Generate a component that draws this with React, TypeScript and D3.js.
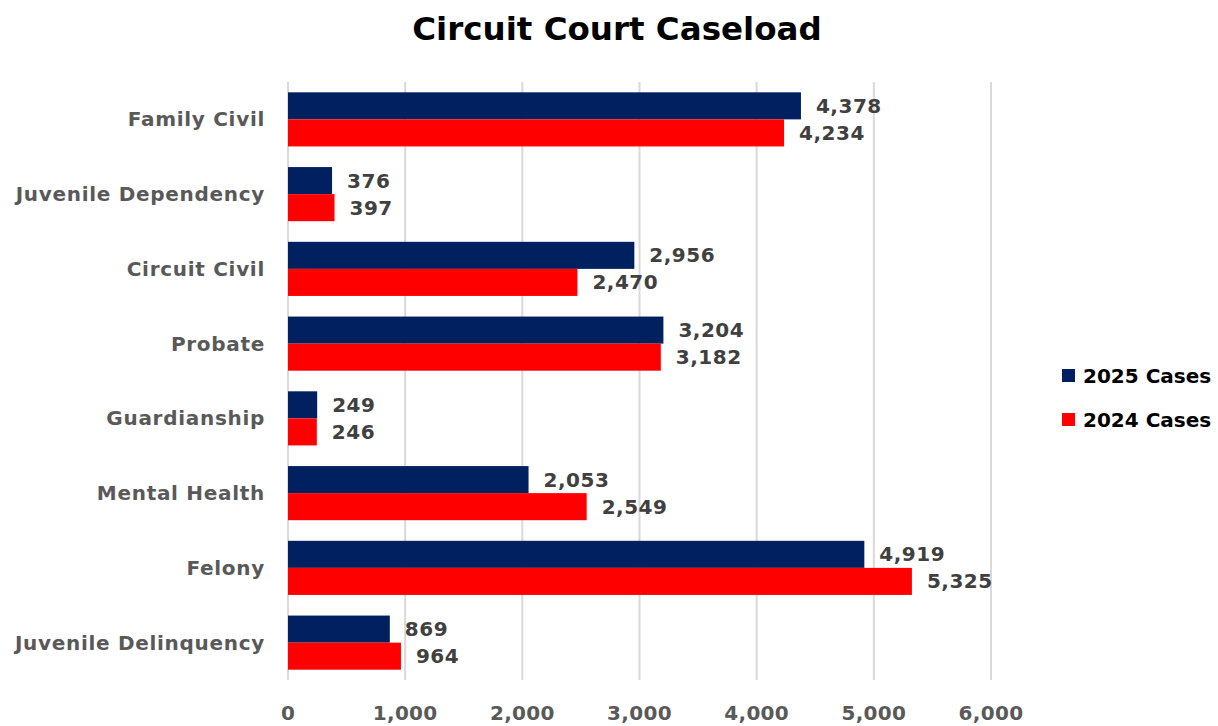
import React from 'react'
import * as d3 from 'd3'

// chart data
const categories = ['Family Civil', 'Juvenile Dependency', 'Circuit Civil', 'Probate', 'Guardianship', 'Mental Health', 'Felony', 'Juvenile Delinquency']
const cases2025 = [4378, 376, 2956, 3204, 249, 2053, 4919, 869]
const cases2024 = [4234, 397, 2470, 3182, 246, 2549, 5325, 964]
const xTicks = [0, 1000, 2000, 3000, 4000, 5000, 6000]
const seriesNames = ['2025 Cases', '2024 Cases']
const seriesColors = ['#002060', '#FF0000']

const FONT = '"DejaVu Sans", sans-serif'

export default function App() {
  const width = 1218, height = 726
  const left = 288, right = 991, top = 82, bottom = 680

  const x = d3.scaleLinear().domain([0, 6000]).range([left, right])
  const y = d3.scaleBand().domain(categories).range([top, bottom]).paddingInner(0.276).paddingOuter(0.138)
  const inner = d3.scaleBand().domain(seriesNames).range([0, y.bandwidth()])
  const fmt = d3.format(',')

  const series = [cases2025, cases2024]

  return (
    <svg width={width} height={height} style={{ position: 'absolute', left: 0, top: 0, background: '#fff' }}>
      <text x={617} y={40} textAnchor="middle" fontFamily={FONT} fontWeight="bold" fontSize={32.5} fill="#000">
        Circuit Court Caseload
      </text>

      {/* gridlines */}
      {xTicks.map(t => (
        <line key={t} x1={x(t)} x2={x(t)} y1={top} y2={bottom} stroke="#d9d9d9" strokeWidth={2} />
      ))}

      {/* bars */}
      {categories.map((c, i) => (
        <g key={c}>
          {series.map((s, j) => (
            <rect key={j} x={x(0)} y={(y(c) as number) + (inner(seriesNames[j]) as number)}
              width={x(s[i]) - x(0)} height={inner.bandwidth()} fill={seriesColors[j]} />
          ))}
          {series.map((s, j) => (
            <text key={'l' + j} x={x(s[i]) + 15} y={(y(c) as number) + (inner(seriesNames[j]) as number) + inner.bandwidth() / 2}
              dominantBaseline="central" fontFamily={FONT} fontWeight="bold" fontSize={20} letterSpacing={0.5} fill="#404040">
              {fmt(s[i])}
            </text>
          ))}
          <text x={265} y={(y(c) as number) + y.bandwidth() / 2} textAnchor="end" dominantBaseline="central"
            fontFamily={FONT} fontWeight="bold" fontSize={20} letterSpacing={0.7} fill="#595959">
            {c}
          </text>
        </g>
      ))}

      {/* x axis labels */}
      {xTicks.map(t => (
        <text key={'t' + t} x={x(t)} y={713} textAnchor="middle" dominantBaseline="central"
          fontFamily={FONT} fontWeight="bold" fontSize={20} letterSpacing={0.3} fill="#595959">
          {fmt(t)}
        </text>
      ))}

      {/* legend */}
      {seriesNames.map((n, j) => (
        <g key={n} transform={`translate(1062, ${369 + j * 44})`}>
          <rect x={0} y={0} width={13} height={13} fill={seriesColors[j]} />
          <text x={21} y={7} dominantBaseline="central" fontFamily={FONT} fontWeight="bold" fontSize={20} fill="#000">
            {n}
          </text>
        </g>
      ))}
    </svg>
  )
}
